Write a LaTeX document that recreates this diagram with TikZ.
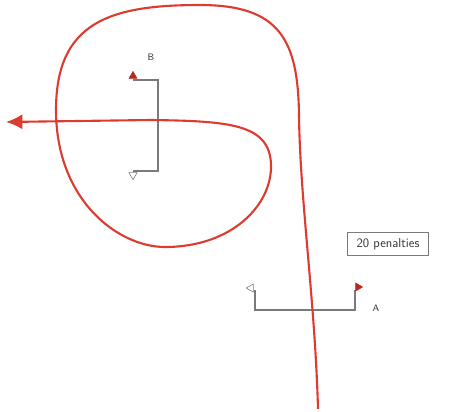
\documentclass[tikz,border=0pt]{standalone}
\usepackage{tikz}
\usetikzlibrary{arrows.meta,shapes.geometric,positioning}
\definecolor{coursered}{HTML}{DD3A30}
\definecolor{gatered}{HTML}{B52A22}
\definecolor{gategray}{HTML}{7A7A7A}
\tikzset{
  gateline/.style={gategray,line width=0.9pt},
  redflag/.style={regular polygon,regular polygon sides=3,fill=gatered,draw=gatered,inner sep=0pt,minimum size=8pt},
  whiteflag/.style={regular polygon,regular polygon sides=3,fill=white,draw=gategray,line width=0.5pt,inner sep=0pt,minimum size=8pt},
  gatelabel/.style={font=\sffamily\footnotesize,text=black!80},
  course/.style={coursered,line width=1.8pt,-{Latex[length=14pt,width=13pt]}}
}
\begin{document}
\begin{tikzpicture}[x=0.03cm,y=-0.03cm]
\useasboundingbox (0,0) rectangle (450,411);
% gate B
\coordinate (b1) at (133,80);
\coordinate (b2) at (158,80);
\coordinate (b3) at (158,171);
\coordinate (b4) at (133,171);
\draw[gateline] (b1) -- (b2) -- (b3) -- (b4);
\node[redflag] (flagB1) at (133,76) {};
\node[whiteflag,rotate=180] (flagB2) at (133,175) {};
\node[gatelabel] (labB) at (151,57) {B};
% gate A
\coordinate (a1) at (255,290);
\coordinate (a2) at (255,310);
\coordinate (a3) at (355,310);
\coordinate (a4) at (355,290);
\draw[gateline] (a1) -- (a2) -- (a3) -- (a4);
\node[whiteflag,rotate=90] (flagA1) at (251,288) {};
\node[redflag,rotate=-90] (flagA2) at (358,287) {};
\node[gatelabel] (labA) at (376,308) {A};
% penalty box
\node[draw=gategray,line width=0.6pt,fill=white,font=\sffamily\fontsize{11}{13}\selectfont,minimum width=2.43cm,minimum height=0.68cm,inner sep=2pt,text=black!80] (pen) at (388,244) {20 penalties};
% course
\draw[course] (318,409) .. controls (315,300) and (300,200) .. (299,115)
  .. controls (298,40) and (280,5) .. (200,5)
  .. controls (110,5) and (56,22) .. (56,110)
  .. controls (56,200) and (118,247) .. (165,247)
  .. controls (232,247) and (272,205) .. (271,165)
  .. controls (270,124) and (230,121) .. (150,120)
  -- (6,122);
\end{tikzpicture}
\end{document}
